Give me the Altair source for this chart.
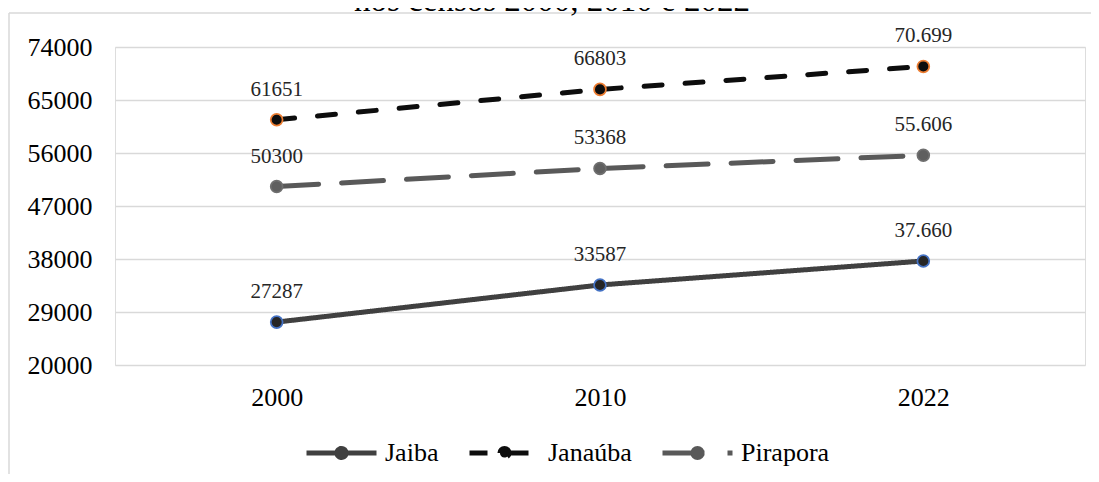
import altair as alt
import pandas as pd

# ---- data -------------------------------------------------------------
anos = ["2000", "2010", "2022"]
series = ["Jaiba", "Janaúba", "Pirapora"]
jaiba = [27287, 33587, 37660]
janauba = [61651, 66803, 70699]
pirapora = [50300, 53368, 55606]
jaiba_rot = ["27287", "33587", "37.660"]
janauba_rot = ["61651", "66803", "70.699"]
pirapora_rot = ["50300", "53368", "55.606"]
y_ticks = [20000, 29000, 38000, 47000, 56000, 65000, 74000]
titulo = "nos censos 2000, 2010 e 2022"

rows = []
for nome, vals, rots in [("Jaiba", jaiba, jaiba_rot),
                         ("Janaúba", janauba, janauba_rot),
                         ("Pirapora", pirapora, pirapora_rot)]:
    for a, v, r in zip(anos, vals, rots):
        rows.append({"ano": a, "valor": v, "serie": nome, "rotulo": r})
df = pd.DataFrame(rows)

FONT = "Liberation Serif"

x = alt.X("ano:O",
          scale=alt.Scale(type="point", padding=0.5, domain=anos),
          axis=alt.Axis(title=None, labelAngle=0, labelFont=FONT, labelFontSize=26,
                        labelColor="#000000", labelPadding=19, domain=False,
                        ticks=False, grid=False))
y = alt.Y("valor:Q",
          scale=alt.Scale(domain=[20000, 74000], nice=False, zero=False),
          axis=alt.Axis(values=y_ticks, title=None, format="d", labelFont=FONT,
                        labelFontSize=26, labelColor="#000000", labelPadding=23,
                        ticks=False, domain=False, gridColor="#D9D9D9", gridWidth=1.5))

legend_path = ("M-1,0H1M-0.13,0A0.13,0.13,0,1,1,0.13,0"
               "A0.13,0.13,0,1,1,-0.13,0")

base = alt.Chart(df)

lines = base.mark_line(strokeWidth=5, strokeCap="round", strokeJoin="round").encode(
    x=x, y=y,
    color=alt.Color("serie:N",
                    scale=alt.Scale(domain=series, range=["#404040", "#0D0D0D", "#595959"]),
                    legend=alt.Legend(title=None, orient="none", legendX=189, legendY=368,
                                      direction="horizontal", symbolType=legend_path,
                                      symbolSize=4900, symbolStrokeWidth=5,
                                      symbolFillColor="#1A1A1A",
                                      labelFont=FONT, labelFontSize=26,
                                      labelColor="#000000", labelOffset=6,
                                      columnPadding=20)),
    strokeDash=alt.StrokeDash("serie:N",
                              scale=alt.Scale(domain=series,
                                              range=[[1, 0], [18, 23], [42, 23]]),
                              legend=None),
)

points = base.mark_point(filled=True, size=140, strokeWidth=1.75, opacity=1).encode(
    x=x, y=y,
    fill=alt.Fill("serie:N",
                  scale=alt.Scale(domain=series, range=["#262626", "#0D0D0D", "#5F5F5F"]),
                  legend=None),
    stroke=alt.Stroke("serie:N",
                      scale=alt.Scale(domain=series, range=["#4472C4", "#ED7D31", "#6F6F6F"]),
                      legend=None),
)

labels = base.mark_text(dy=-30, font=FONT, fontSize=21, color="#262626",
                        baseline="middle").encode(x=x, y=y, text="rotulo:N")

frame_df = pd.DataFrame({"k": [0]})
left_border = alt.Chart(frame_df).mark_rule(color="#D9D9D9", strokeWidth=1.5).encode(
    x=alt.value(-106), y=alt.value(-34), y2=alt.value(440))
top_border = alt.Chart(frame_df).mark_rule(color="#D9D9D9", strokeWidth=1.5).encode(
    x=alt.value(-106), x2=alt.value(990), y=alt.value(-34))

title_df = pd.DataFrame({"t": [titulo]})
title_mark = alt.Chart(title_df).mark_text(
    font=FONT, fontSize=33, color="#000000", align="center", baseline="alphabetic"
).encode(x=alt.value(437), y=alt.value(-36), text="t:N")

chart = alt.layer(left_border, top_border, title_mark, lines, points, labels).properties(
    width=970, height=318,
    padding={"left": 107, "top": 39, "right": 6, "bottom": 109},
    autosize=alt.AutoSizeParams(type="none"),
).configure_view(stroke=None).configure(background="white")

chart.save("out.html", embed_options={"renderer": "svg", "actions": False})
